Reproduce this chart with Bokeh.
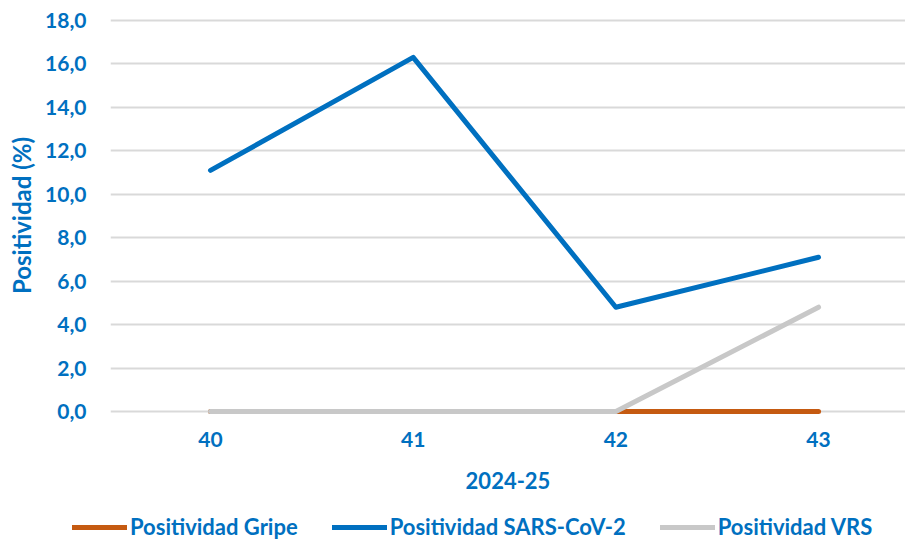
from bokeh.plotting import figure
from bokeh.layouts import column
from bokeh.models import Range1d, FixedTicker, Legend, LegendItem, CustomJSTickFormatter
from bokeh.embed import file_html
from bokeh.resources import INLINE

weeks = ["40", "41", "42", "43"]
gripe = [0.0, 0.0, 0.0, 0.0]
sars = [11.1, 16.3, 4.8, 7.1]
vrs = [0.0, 0.0, 0.0, 4.8]
y_ticks = [0, 2, 4, 6, 8, 10, 12, 14, 16, 18]
series_names = ["Positividad Gripe", "Positividad SARS-CoV-2", "Positividad VRS"]

BLUE = "#0070C0"
ORANGE = "#C55A11"
GRAY = "#C8C8C8"
FONT = "Lato"
W = 905

xs = list(range(len(weeks)))

p = figure(width=W, height=500, output_backend="svg", toolbar_location=None,
           x_range=Range1d(-0.4934, 3.429), y_range=Range1d(-0.414, 18.46),
           min_border_left=110, min_border_right=0, min_border_top=10, min_border_bottom=80)
p.outline_line_color = None
p.background_fill_color = "white"
p.border_fill_color = "white"

p.line(xs, gripe, line_color=ORANGE, line_width=5, line_cap="round", line_join="round")
p.line(xs, sars, line_color=BLUE, line_width=5, line_cap="round", line_join="round")
p.line(xs, vrs, line_color=GRAY, line_width=5, line_cap="round", line_join="round")

p.xaxis.ticker = FixedTicker(ticks=xs)
p.xaxis.formatter = CustomJSTickFormatter(args=dict(labels=weeks), code="return labels[Math.round(tick)] || '';")
p.yaxis.ticker = FixedTicker(ticks=y_ticks)
p.yaxis.formatter = CustomJSTickFormatter(code="return tick.toFixed(1).replace('.', ',');")

for ax in (p.xaxis[0], p.yaxis[0]):
    ax.axis_line_color = None
    ax.major_tick_line_color = None
    ax.minor_tick_line_color = None
    ax.major_tick_out = 0
    ax.major_tick_in = 0
    ax.minor_tick_out = 0
    ax.major_label_text_color = BLUE
    ax.major_label_text_font = FONT
    ax.major_label_text_font_style = "bold"
    ax.major_label_text_font_size = "21px"
    ax.axis_label_text_color = BLUE
    ax.axis_label_text_font = FONT
    ax.axis_label_text_font_style = "bold"
    ax.axis_label_text_font_size = "22px"

p.yaxis.axis_label_text_font_size = "24px"
p.yaxis.major_label_standoff = 24
p.xaxis.major_label_standoff = 11
p.xaxis.axis_label = "2024-25"
p.xaxis.axis_label_standoff = 22
p.yaxis.axis_label = "Positividad (%)"
p.yaxis.axis_label_standoff = 6

p.xgrid.grid_line_color = None
p.ygrid.grid_line_color = "#D9D9D9"
p.ygrid.grid_line_width = 2

# legend strip below the chart
can_unalign = "frame_align" in p.properties()
lg = figure(width=W, height=40, output_backend="svg", toolbar_location=None,
            x_range=Range1d(0, 1), y_range=Range1d(0, 1),
            min_border_left=0 if can_unalign else 110, min_border_right=0,
            min_border_top=0, min_border_bottom=0)
if can_unalign:
    lg.frame_align = False
lg.axis.visible = False
lg.grid.visible = False
lg.outline_line_color = None
lg.border_fill_color = "white"
colors = [ORANGE, BLUE, GRAY]
items = []
for name, c in zip(series_names, colors):
    r = lg.line(x=[-10, -9], y=[-10, -10], line_color=c, line_width=5, line_cap="round")
    items.append(LegendItem(label=name, renderers=[r]))

legend = Legend(items=items, orientation="horizontal",
                location=(72, 0) if can_unalign else (-38, 0))
legend.label_text_color = BLUE
legend.label_text_font = FONT
legend.label_text_font_style = "bold"
legend.label_text_font_size = "22px"
legend.glyph_width = 55
legend.label_standoff = 3
legend.spacing = 34
legend.border_line_color = None
legend.background_fill_alpha = 0
legend.margin = 0
legend.padding = 0
lg.add_layout(legend, "center")

open("out.html", "w").write(file_html(column(p, lg, spacing=0), INLINE))
